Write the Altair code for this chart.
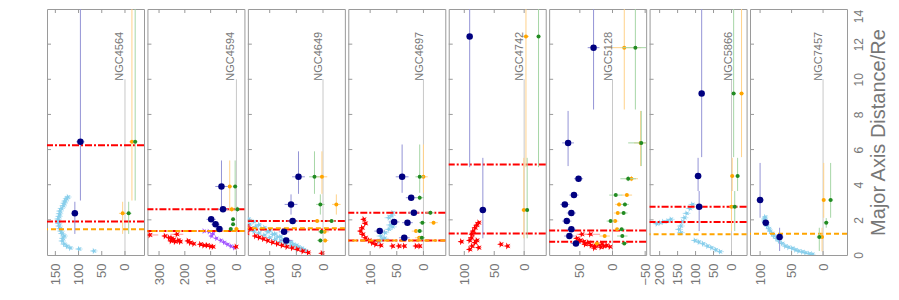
import altair as alt
import pandas as pd

FONT = "Liberation Sans"
GREY = "#777777"

# ---------------- data (distance / Re, value[, error, bin lo, bin hi]) ----------------
# NGC4564
NGC4564_sky = [(0.23, 67), (0.34, 99), (0.40, 118), (0.50, 125), (0.62, 131), (0.80, 135), (0.95, 134),
               (1.08, 131), (1.22, 136), (1.36, 138), (1.50, 140), (1.65, 142), (1.80, 143), (1.93, 144),
               (2.05, 144), (2.20, 142), (2.35, 141), (2.50, 140), (2.65, 137), (2.80, 133), (2.95, 131),
               (3.07, 129), (3.20, 126), (3.30, 123)]
NGC4564_sky_err = 8
NGC4564_navy = [(2.37, 108, 7, 1.20, 3.03), (6.44, 96, 9, 3.10, 15)]
NGC4564_orange = [(2.37, 5, 8, 1.20, 3.03), (6.44, -15, 6, 3.10, 15)]
NGC4564_green = [(2.37, -8, 6, 1.20, 3.03), (6.44, -22, 5, 3.10, 15)]
NGC4564_redlines = [6.25, 1.91]
NGC4564_orangelines = [1.46]

# NGC4594
NGC4594_red = [(1.14, 336, 33), (1.18, 231, 25), (1.08, 277, 12), (0.98, 261, 12), (0.95, 251, 12),
               (0.87, 244, 10), (0.80, 254, 10), (0.76, 238, 10), (0.83, 225, 10), (0.76, 218, 10),
               (0.80, 188, 10), (0.70, 179, 10), (0.64, 166, 10), (0.61, 140, 10), (0.55, 127, 10),
               (0.55, 114, 10), (0.49, 101, 10), (0.47, 91, 10), (0.47, 2, 8)]
NGC4594_purple = [(1.36, 127), (1.33, 107), (1.21, 91), (1.08, 97), (0.95, 78), (0.83, 61), (0.72, 48),
                  (0.61, 35), (0.51, 22), (0.42, 9)]
NGC4594_purple_err = 8
NGC4594_navy = [(3.90, 58, 24, 2.50, 5.38), (2.60, 52, 20, 2.45, 2.75), (2.03, 98, 18, 1.92, 2.14),
                (1.75, 81, 16, 1.66, 1.84), (1.48, 66, 15, 1.40, 1.56)]
NGC4594_orange = [(3.90, 26, 10, 2.50, 5.38), (2.60, 18, 10, 2.45, 2.75), (1.48, 0, 10, 1.40, 1.56)]
NGC4594_green = [(3.90, 5, 8, 2.50, 5.38), (2.60, -4, 8, 2.45, 2.75), (2.03, 13, 6, 1.92, 2.14),
                 (1.75, 13, 6, 1.66, 1.84), (1.48, 22, 8, 1.40, 1.56)]
NGC4594_redlines = [2.60, 1.36]
NGC4594_orangelines = [1.36]

# NGC4649
NGC4649_sky = [(2.05, 140), (1.90, 130), (1.72, 120), (1.55, 110), (1.38, 100), (1.20, 90), (1.04, 80),
               (0.88, 70), (0.72, 60), (0.55, 50), (0.38, 40), (0.22, 32),
               (1.75, 138), (1.62, 126), (1.48, 115), (1.32, 104), (1.18, 94), (1.03, 85), (0.88, 76),
               (0.74, 66), (0.60, 56), (0.46, 46), (0.30, 36),
               (1.45, 140), (1.35, 130), (1.25, 120), (1.13, 110), (1.00, 100), (0.88, 90), (0.76, 80),
               (0.64, 70), (0.52, 60), (0.40, 50), (0.28, 40)]
NGC4649_sky_err = 6
NGC4649_red = [(1.25, 143, 6), (1.08, 127, 6), (1.00, 120, 6), (0.92, 112, 6), (0.82, 104, 6), (0.72, 95, 6),
               (0.64, 86, 6), (0.55, 77, 6), (0.47, 68, 6), (0.40, 58, 6), (0.32, 48, 6), (0.22, 38, 6),
               (0.14, 28, 6), (0.10, 2, 6), (1.65, 143, 6), (1.50, 136, 6)]
NGC4649_navy = [(4.45, 46, 12, 3.48, 5.90), (2.88, 60, 12, 2.30, 3.45), (1.93, 57, 10, 1.82, 2.04),
                (1.32, 73, 10, 1.22, 1.42), (0.83, 69, 12, 0.72, 0.94)]
NGC4649_orange = [(4.45, 2, 10, 3.48, 5.90), (2.88, -25, 8, 2.30, 3.45), (1.93, 11, 8, 1.82, 2.04),
                  (1.32, -3, 8, 1.22, 1.42), (0.83, -4, 6, 0.72, 0.94)]
NGC4649_green = [(4.45, 16, 10, 3.48, 5.90), (2.88, 5, 8, 2.30, 3.45), (1.93, -16, 8, 1.82, 2.04),
                 (1.32, 3, 6, 1.22, 1.42), (0.83, 5, 6, 0.72, 0.94)]
NGC4649_redlines = [1.93, 1.45]
NGC4649_orangelines = [1.52]

# NGC4697
NGC4697_sky = [(2.40, 58), (2.25, 60), (2.12, 65), (1.93, 57), (1.71, 62), (1.60, 58), (1.46, 65),
               (1.27, 72), (1.08, 80), (0.95, 73), (0.90, 77), (0.77, 84)]
NGC4697_sky_err = 8
NGC4697_red = [(2.03, 112, 5), (1.80, 109, 5), (1.55, 115, 5), (1.36, 118, 5), (1.17, 114, 5), (0.98, 109, 5),
               (0.83, 102, 5), (0.70, 96, 5), (0.61, 90, 5), (0.55, 80, 5), (0.51, 58, 5), (0.51, 46, 5),
               (0.51, 36, 5), (0.51, 14, 5), (0.51, 7, 5)]
NGC4697_navy = [(4.45, 40, 12, 3.54, 6.29), (3.26, 23, 10, 3.12, 3.40), (2.40, 18, 10, 2.28, 2.52),
                (1.88, 55, 10, 1.78, 1.98), (1.84, 30, 10, 1.74, 1.94), (1.36, 82, 10, 1.26, 1.46),
                (0.98, 36, 10, 0.88, 1.08)]
NGC4697_orange = [(4.45, 0, 8, 3.54, 6.29), (1.84, -19, 8, 1.74, 1.94), (1.36, 14, 8, 1.26, 1.46),
                  (0.98, 8, 8, 0.88, 1.08)]
NGC4697_green = [(4.45, 7, 8, 3.54, 6.29), (3.26, 7, 8, 3.12, 3.40), (2.40, -13, 8, 2.28, 2.52),
                 (1.84, 2, 6, 1.74, 1.94), (1.36, 7, 6, 1.26, 1.46), (0.98, 3, 6, 0.88, 1.08)]
NGC4697_redlines = [2.40, 0.83]
NGC4697_orangelines = [0.83]

# NGC4742
NGC4742_red = [(1.84, 76, 5), (1.70, 79, 5), (1.55, 82, 5), (1.36, 85, 5), (1.18, 87, 5), (0.98, 88, 5),
               (0.83, 91, 5), (0.83, 79, 5), (0.70, 82, 5), (0.51, 87, 5), (0.42, 76, 5), (0.32, 91, 5),
               (0.76, 105, 5), (0.61, 39, 5), (0.51, 28, 5)]
NGC4742_navy = [(12.44, 91, 5, 5.00, 15), (2.56, 69, 6, 0.95, 5.53)]
NGC4742_orange = [(12.44, -3, 5, 5.00, 15), (2.56, 0.5, 4, 0.95, 5.53)]
NGC4742_green = [(12.44, -24, 3, 5.00, 15), (2.56, -5, 3, 0.95, 5.53)]
NGC4742_redlines = [5.15, 1.23]
NGC4742_orangelines = []

# NGC5128
NGC5128_red = [(0.95, 54.5, 5), (0.83, 49.5, 5), (0.76, 44, 5), (0.61, 42, 5), (0.70, 37, 5), (0.55, 33, 5),
               (0.51, 27, 5), (0.61, 22, 5), (0.64, 17, 5), (0.51, 13, 5), (0.55, 9, 5), (0.47, 4, 5),
               (1.18, 34, 15), (1.18, 47, 8), (0.40, 28, 5), (0.45, 18, 5)]
NGC5128_navy = [(11.80, 29, 9, 8.28, 15), (6.38, 68, 9, 5.06, 8.20), (4.34, 52, 7, 4.2, 4.5),
                (3.41, 59, 7, 3.3, 3.5), (2.88, 73, 7, 2.8, 3.0), (2.39, 63, 7, 2.3, 2.5),
                (1.93, 70, 7, 1.85, 2.0), (1.46, 63, 7, 1.4, 1.55), (1.08, 66, 8, 1.0, 1.16),
                (0.66, 56, 8, 0.6, 0.72)]
NGC5128_orange = [(11.80, -18, 26, 8.28, 15), (6.38, -43, 10, 5.06, 8.20), (4.34, -29, 10, 4.2, 4.5),
                  (3.41, -22, 8, 3.3, 3.5), (2.88, -10, 6, 2.8, 3.0), (2.39, -8, 6, 2.3, 2.5),
                  (1.93, -4, 5, 1.85, 2.0), (1.46, -7, 5, 1.4, 1.55), (1.08, 12, 8, 1.0, 1.16),
                  (0.66, 24, 6, 0.6, 0.72)]
NGC5128_green = [(11.80, -35, 20, 8.28, 15), (6.38, -44, 20, 5.06, 8.20), (4.34, -24, 12, 4.2, 4.5),
                 (3.41, -5, 10, 3.3, 3.5), (2.88, -19, 6, 2.8, 3.0), (2.39, -17, 6, 2.3, 2.5),
                 (1.93, 3, 6, 1.85, 2.0), (1.46, -14, 6, 1.4, 1.55), (1.08, -15, 8, 1.0, 1.16),
                 (0.66, -18, 5, 0.6, 0.72)]
NGC5128_redlines = [1.40, 0.76]
NGC5128_orangelines = []

# NGC5866
NGC5866_sky = [(1.78, 208), (1.84, 199), (1.89, 190), (1.93, 178), (2.03, 169),
               (2.88, 109), (2.65, 116), (2.37, 125), (2.12, 131), (1.89, 137), (1.65, 141), (1.46, 146),
               (1.27, 141),
               (0.83, 102), (0.74, 91), (0.64, 79), (0.51, 67), (0.42, 56), (0.30, 44), (0.19, 32)]
NGC5866_sky_err = 11
NGC5866_navy = [(9.19, 83, 8, 5.57, 15), (4.49, 93, 10, 3.64, 5.53), (2.74, 90, 10, 1.36, 3.64)]
NGC5866_orange = [(9.19, -28, 6, 5.57, 15), (4.49, -2, 6, 3.64, 5.53), (2.74, 0, 6, 1.36, 3.64)]
NGC5866_green = [(9.19, -6, 6, 5.57, 15), (4.49, -17, 6, 3.64, 5.53), (2.74, -9, 8, 1.36, 3.64)]
NGC5866_redlines = [2.74, 1.88]
NGC5866_orangelines = [1.18]

# NGC7457
NGC7457_sky = [(2.16, 92), (2.05, 93), (1.93, 93), (1.80, 91), (1.65, 89), (1.50, 86), (1.36, 84),
               (1.22, 81), (1.08, 78), (0.94, 74), (0.80, 70), (0.66, 65), (0.51, 60), (0.44, 55),
               (0.38, 49), (0.30, 44), (0.23, 39), (0.18, 33), (0.13, 28), (0.08, 22), (0.04, 17)]
NGC7457_sky_err = 5
NGC7457_navy = [(3.13, 100, 6, 2.12, 5.24), (1.84, 91, 6, 1.70, 2.00), (1.02, 69, 6, 0.23, 1.55)]
NGC7457_orange = [(3.13, -1, 3, 2.12, 5.24), (1.02, 1.6, 3, 0.20, 1.55)]
NGC7457_green = [(3.13, -12, 4, 2.12, 5.24), (1.84, -5, 4, 1.55, 2.10), (1.02, 6, 4, 0.23, 1.55)]
NGC7457_redlines = []
NGC7457_orangelines = [1.21]

TICKS = {
    "NGC4564": [150, 100, 50, 0], "NGC4594": [300, 200, 100, 0], "NGC4649": [100, 50, 0],
    "NGC4697": [100, 50, 0], "NGC4742": [100, 50, 0], "NGC5128": [50, 0, -50],
    "NGC5866": [200, 150, 100, 50, 0], "NGC7457": [100, 50, 0],
}
DOMAINS = {
    "NGC4564": [-41, 168], "NGC4594": [-31, 345], "NGC4649": [-41, 141], "NGC4697": [-41, 141],
    "NGC4742": [-36, 126], "NGC5128": [-51.5, 97], "NGC5866": [-42, 228], "NGC7457": [-38, 116],
}
LABEL_V = {"NGC4564": 10.5, "NGC4594": 22, "NGC4649": 7, "NGC4697": 7, "NGC4742": 6.5,
           "NGC5128": 5.6, "NGC5866": 7.5, "NGC7457": 6}
Y_TICKS = [0, 2, 4, 6, 8, 10, 12, 14]
INNER_Y_TICKS = [2, 4, 6, 8, 10, 12]

STAR = ("M-1,0L-0.309,-0.224L-0.309,-0.951L0.118,-0.363L0.809,-0.588L0.382,0L0.809,0.588"
        "L0.118,0.363L-0.309,0.951L-0.309,0.224Z")

W, H = 97, 246


def star_df(pts, err=None):
    rows = []
    for p in pts:
        r, v = p[0], p[1]
        e = p[2] if len(p) > 2 else err
        rows.append({"r": r, "v": v, "lo": v - e, "hi": v + e})
    return pd.DataFrame(rows, columns=["r", "v", "lo", "hi"])


def bin_df(pts):
    rows = [{"r": r, "v": v, "lo": v - e, "hi": v + e, "rlo": a, "rhi": b} for r, v, e, a, b in pts]
    return pd.DataFrame(rows, columns=["r", "v", "lo", "hi", "rlo", "rhi"])


def make_panel(name, sky=None, sky_err=None, red=None, pur=None, pur_err=None,
               navy=(), orng=(), grn=(), redlines=(), orlines=(), last=False):
    xs = alt.Scale(domain=DOMAINS[name], reverse=True, nice=False, zero=False)
    ys = alt.Scale(domain=[0, 14], nice=False, zero=False)
    xax = alt.Axis(values=TICKS[name], title=None, labelAngle=270, labelAlign="right",
                   labelBaseline="middle", labelPadding=8, labelFontSize=13, labelColor=GREY,
                   labelFont=FONT, labelFlush=False, labelOverlap=False, ticks=False, tickSize=0,
                   domain=False, grid=False)
    if last:
        yax = alt.Axis(orient="right", values=Y_TICKS, title="Major Axis Distance/Re",
                       labelAngle=270, labelAlign="center", labelBaseline="top", labelPadding=6,
                       labelFontSize=12, labelColor=GREY, labelFont=FONT, labelFlush=False,
                       labelOverlap=False,
                       labelOffset={"condition": {"test": "datum.value == 14", "value": 7}, "value": 0},
                       ticks=False, tickSize=0, domain=False, grid=False,
                       titleAngle=270, titleBaseline="top", titleAlign="center", titlePadding=4,
                       titleFontSize=20, titleFontWeight="normal", titleColor=GREY, titleFont=FONT)
    else:
        yax = None

    def X(f):
        return alt.X(f, type="quantitative", scale=xs, axis=xax)

    def Y(f):
        return alt.Y(f, type="quantitative", scale=ys, axis=yax)

    layers = []
    zero = pd.DataFrame({"v": [0], "r0": [0], "r1": [10]})
    layers.append(alt.Chart(zero).mark_rule(color="#c8c8c8", strokeWidth=1).encode(
        x=X("v"), y=Y("r0"), y2=alt.Y2("r1")))

    def stars(df, col, ecol, size):
        return [
            alt.Chart(df).mark_rule(color=ecol, strokeWidth=1, clip=True).encode(
                x=X("lo"), x2=alt.X2("hi"), y=Y("r")),
            alt.Chart(df).mark_point(shape=STAR, filled=True, size=size, color=col, opacity=1,
                                     clip=True).encode(x=X("v"), y=Y("r")),
        ]

    if sky:
        layers += stars(star_df(sky, sky_err), "#87ceeb", "#bfe4f4", 45)
    if pur:
        layers += stars(star_df(pur, pur_err), "#a052ff", "#cfadff", 40)
    if red:
        layers += stars(star_df(red), "#ff0000", "#ff9c9c", 55)

    if redlines:
        layers.append(alt.Chart(pd.DataFrame({"r": redlines})).mark_rule(
            color="#ff0000", strokeWidth=2, strokeDash=[7, 2, 2, 2]).encode(y=Y("r")))
    if orlines:
        layers.append(alt.Chart(pd.DataFrame({"r": orlines})).mark_rule(
            color="#ffa500", strokeWidth=2, strokeDash=[5, 3]).encode(y=Y("r")))

    def bins(pts, col, ecol, size):
        df = bin_df(pts)
        return [
            alt.Chart(df).mark_rule(color=ecol, strokeWidth=1, clip=True).encode(
                x=X("v"), y=Y("rlo"), y2=alt.Y2("rhi")),
            alt.Chart(df).mark_rule(color=ecol, strokeWidth=1, clip=True).encode(
                x=X("lo"), x2=alt.X2("hi"), y=Y("r")),
            alt.Chart(df).mark_circle(size=size, color=col, opacity=1, clip=True).encode(
                x=X("v"), y=Y("r")),
        ]

    if orng:
        layers += bins(orng, "#ffa500", "#ffd28a", 16)
    if grn:
        layers += bins(grn, "#228b22", "#a6d6a6", 16)
    if navy:
        layers += bins(navy, "#000080", "#9494d6", 42)

    lab = pd.DataFrame({"v": [LABEL_V[name]], "r": [12.7], "t": [name]})
    layers.append(alt.Chart(lab).mark_text(angle=270, align="right", baseline="middle", fontSize=11,
                                           color=GREY, font=FONT).encode(
        x=X("v"), y=Y("r"), text="t:N"))

    tk = pd.DataFrame({"t": TICKS[name]})
    layers.append(alt.Chart(tk).mark_rule(color="#999999").encode(
        x=X("t"), y=alt.value(0), y2=alt.value(4)))
    layers.append(alt.Chart(tk).mark_rule(color="#999999").encode(
        x=X("t"), y=alt.value(H), y2=alt.value(H - 4)))
    yt = pd.DataFrame({"r": INNER_Y_TICKS})
    layers.append(alt.Chart(yt).mark_rule(color="#999999").encode(
        x=alt.value(0), x2=alt.value(4), y=Y("r")))

    return alt.layer(*layers).properties(width=W, height=H)


panels = [
    make_panel("NGC4564", sky=NGC4564_sky, sky_err=NGC4564_sky_err, navy=NGC4564_navy,
               orng=NGC4564_orange, grn=NGC4564_green, redlines=NGC4564_redlines,
               orlines=NGC4564_orangelines),
    make_panel("NGC4594", red=NGC4594_red, pur=NGC4594_purple, pur_err=NGC4594_purple_err,
               navy=NGC4594_navy, orng=NGC4594_orange, grn=NGC4594_green,
               redlines=NGC4594_redlines, orlines=NGC4594_orangelines),
    make_panel("NGC4649", sky=NGC4649_sky, sky_err=NGC4649_sky_err, red=NGC4649_red,
               navy=NGC4649_navy, orng=NGC4649_orange, grn=NGC4649_green,
               redlines=NGC4649_redlines, orlines=NGC4649_orangelines),
    make_panel("NGC4697", sky=NGC4697_sky, sky_err=NGC4697_sky_err, red=NGC4697_red,
               navy=NGC4697_navy, orng=NGC4697_orange, grn=NGC4697_green,
               redlines=NGC4697_redlines, orlines=NGC4697_orangelines),
    make_panel("NGC4742", red=NGC4742_red, navy=NGC4742_navy, orng=NGC4742_orange,
               grn=NGC4742_green, redlines=NGC4742_redlines, orlines=NGC4742_orangelines),
    make_panel("NGC5128", red=NGC5128_red, navy=NGC5128_navy, orng=NGC5128_orange,
               grn=NGC5128_green, redlines=NGC5128_redlines, orlines=NGC5128_orangelines),
    make_panel("NGC5866", sky=NGC5866_sky, sky_err=NGC5866_sky_err, navy=NGC5866_navy,
               orng=NGC5866_orange, grn=NGC5866_green, redlines=NGC5866_redlines,
               orlines=NGC5866_orangelines),
    make_panel("NGC7457", sky=NGC7457_sky, sky_err=NGC7457_sky_err, navy=NGC7457_navy,
               orng=NGC7457_orange, grn=NGC7457_green, redlines=NGC7457_redlines,
               orlines=NGC7457_orangelines, last=True),
]

chart = alt.hconcat(*panels, spacing=3.43, bounds="flush").properties(
    padding={"left": 37, "top": 0, "right": 2, "bottom": 2},
    background="white",
).configure_view(stroke="#9a9a9a", strokeWidth=1)

chart.save("out.html", embed_options={"renderer": "svg", "actions": False})
